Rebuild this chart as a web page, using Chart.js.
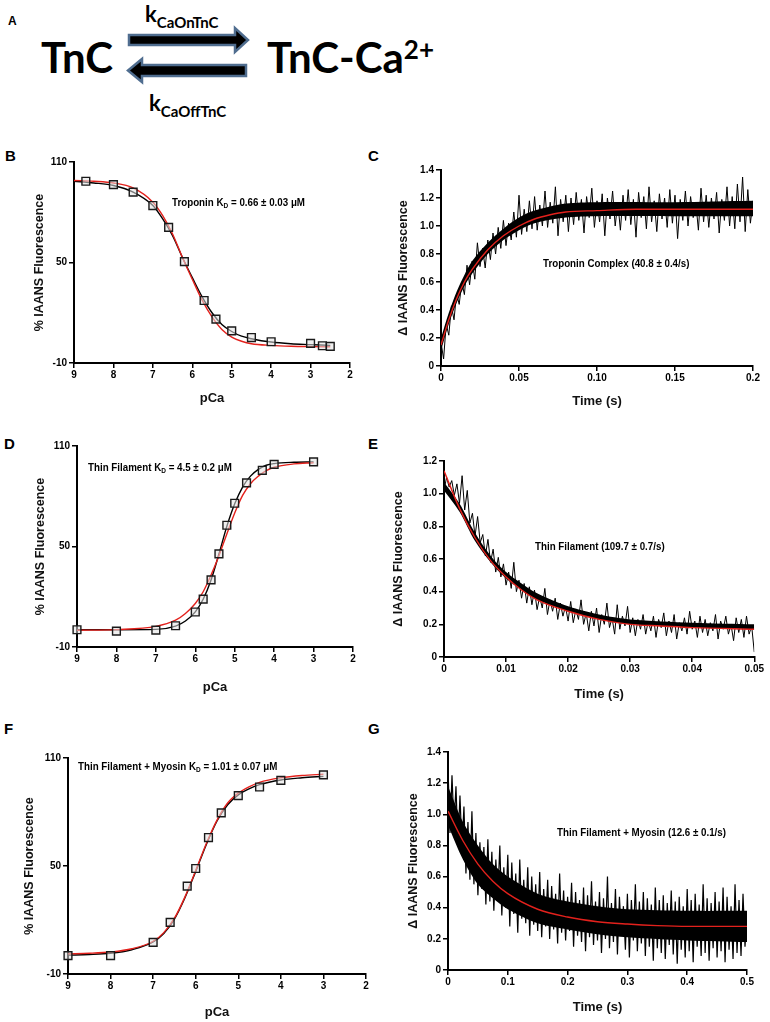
<!DOCTYPE html>
<html>
<head>
<meta charset="utf-8">
<script src="https://cdn.jsdelivr.net/npm/chart.js@4.4.0/dist/chart.umd.min.js"></script>
<style>
body { margin: 0; background: #fff; width: 770px; height: 1022px; overflow: hidden; position: relative; font-family: "Liberation Sans", Arial, sans-serif; }
canvas { position: absolute; }
.lbl { position: absolute; font-weight: bold; font-size: 15px; line-height: 1; }
.note { position: absolute; font-weight: bold; font-size: 10.5px; line-height: 14px; white-space: nowrap;
        font-family: "Liberation Sans", Arial, sans-serif; transform: scaleX(0.93); transform-origin: left center; }
.note sub { font-size: 7px; vertical-align: -2px; }
.big { position: absolute; font-family: Lato, "Open Sans", sans-serif; font-weight: bold; font-size: 42px; line-height: 1; white-space: nowrap; }
.big sup { font-size: 26px; vertical-align: 14px; }
.k { position: absolute; font-family: Lato, "Open Sans", sans-serif; font-weight: bold; font-size: 22px; line-height: 1; white-space: nowrap; }
.k sub { font-size: 15px; vertical-align: -6px; }
</style>
</head>
<body>

<!-- A: scheme -->
<div class="lbl" style="left:8px;top:15px;font-size:12px">A</div>
<div class="big" style="left:41px;top:36px">TnC</div>
<div class="big" style="left:267px;top:36px">TnC-Ca<sup>2+</sup></div>
<div class="k" style="left:145px;top:3px">k<sub>CaOnTnC</sub></div>
<div class="k" style="left:149px;top:92px">k<sub>CaOffTnC</sub></div>
<svg style="position:absolute;left:0;top:0" width="300" height="100">
  <polygon points="129,35 235,35 235,28 248,40 235,52 235,45 129,45" fill="#000" stroke="#4f6d8f" stroke-width="2.5" stroke-linejoin="miter"/>
  <polygon points="246,65 142,65 142,59 128,70.5 142,82 142,76 246,76" fill="#000" stroke="#4f6d8f" stroke-width="2.5" stroke-linejoin="miter"/>
</svg>

<div class="lbl" style="left:5px;top:148px">B</div>
<div class="lbl" style="left:368px;top:148px">C</div>
<div class="lbl" style="left:4px;top:436px">D</div>
<div class="lbl" style="left:368px;top:436px">E</div>
<div class="lbl" style="left:4px;top:721px">F</div>
<div class="lbl" style="left:368px;top:721px">G</div>

<canvas id="chartB" width="370" height="260" style="left:0;top:150px"></canvas>
<canvas id="chartC" width="385" height="263" style="left:380px;top:150px"></canvas>
<canvas id="chartD" width="370" height="269" style="left:0;top:430px"></canvas>
<canvas id="chartE" width="385" height="266" style="left:380px;top:440px"></canvas>
<canvas id="chartF" width="380" height="282" style="left:0;top:740px"></canvas>
<canvas id="chartG" width="385" height="284" style="left:380px;top:735px"></canvas>

<div class="note" style="left:172px;top:195px">Troponin K<sub>D</sub> = 0.66 ± 0.03 μM</div>
<div class="note" style="left:543px;top:256px">Troponin Complex (40.8 ± 0.4/s)</div>
<div class="note" style="left:88px;top:460px">Thin Filament K<sub>D</sub> = 4.5 ± 0.2 μM</div>
<div class="note" style="left:535px;top:539px">Thin Filament (109.7 ± 0.7/s)</div>
<div class="note" style="left:78px;top:759px">Thin Filament + Myosin K<sub>D</sub> = 1.01 ± 0.07 μM</div>
<div class="note" style="left:557px;top:825px">Thin Filament + Myosin (12.6 ± 0.1/s)</div>

<script>
// --- B: troponin steady-state titration ---
const bPca = [8.7, 8.0, 7.5, 7.0, 6.6, 6.2, 5.7, 5.4, 5.0, 4.5, 4.0, 3.0, 2.7, 2.5];
const bFluor = [98.5, 96.5, 92, 84, 71, 50.5, 27.3, 16.2, 9.2, 5.2, 2.7, 1.7, 0.3, -0.1];
const bFitPca = [9, 8.5, 8, 7.5, 7, 6.75, 6.5, 6.25, 6, 5.75, 5.5, 5.25, 5, 4.75, 4.5, 4, 3.5, 3, 2.5];
const bFitBlack = [98.5, 97.5, 96, 92, 84, 76, 66, 53, 41, 29.5, 20, 13, 8.8, 6, 4.5, 2.5, 1.5, 1, 0.5];
const bFitRed = [99, 98.5, 97.5, 94.5, 86, 78, 67, 53, 40, 27.5, 17.5, 10, 5.5, 3, 1.5, 0.5, 0, -0.2, -0.3];

// --- D: thin filament titration ---
const dPca = [9.0, 8.0, 7.0, 6.5, 6.0, 5.8, 5.6, 5.4, 5.2, 5.0, 4.7, 4.3, 4.0, 3.0];
const dFluor = [0.3, -0.5, 0.1, 2.7, 10.9, 18.6, 30.1, 45.6, 62.7, 75.8, 88, 95.5, 99, 100.5];
const dFitPca = [9, 8, 7, 6.5, 6.25, 6, 5.8, 5.6, 5.4, 5.2, 5, 4.8, 4.6, 4.4, 4.2, 4, 3.5, 3];
const dFitBlack = [0.3, 0.3, 0.5, 2.5, 5.5, 11, 18.5, 30, 45.5, 62, 75.5, 85.5, 92, 96, 98.5, 99.5, 100.3, 100.5];
const dFitRed = [0, 0.4, 2.3, 6, 10, 16, 23, 33, 44.5, 57.5, 70, 80.5, 87.5, 92, 95.3, 97.3, 99.3, 100];

// --- F: thin filament + myosin titration ---
const fPca = [9.0, 8.0, 7.0, 6.6, 6.2, 6.0, 5.7, 5.4, 5.0, 4.5, 4.0, 3.0];
const fFluor = [0.2, 0.2, 7.6, 18.7, 38.8, 48.6, 65.8, 79.5, 89.1, 93.9, 97.6, 100.6];
const fFitPca = [9, 8.5, 8, 7.5, 7, 6.75, 6.5, 6.25, 6, 5.75, 5.5, 5.25, 5, 4.75, 4.5, 4, 3.5, 3];
const fFitBlack = [0.5, 0.8, 1.5, 3.5, 7.8, 12.5, 20.5, 32.5, 47, 62, 75, 84, 89.5, 92.8, 95.2, 97.8, 99, 99.8];
const fFitRed = [1.2, 1.5, 2.2, 4, 8.2, 13, 21, 33, 47.5, 62.5, 75.5, 85, 90.5, 94, 96.5, 99, 100.3, 101];

const pcaTicks = [9, 8, 7, 6, 5, 4, 3, 2];
const pctTicks = [-10, 50, 110];

// --- C: troponin complex stopped-flow trace (0 - 0.2 s, evenly sampled) ---
const cTrace = [
  0.17, 0.05, 0.30, 0.22, 0.43, 0.33, 0.52, 0.44, 0.60, 0.51, 0.72, 0.58, 0.75, 0.62, 0.88, 0.71,
  0.84, 0.70, 0.90, 0.76, 0.95, 0.80, 0.99, 0.84, 1.04, 0.86, 1.02, 0.90, 1.10, 0.92, 1.22, 0.94,
  1.12, 0.96, 1.18, 0.98, 1.21, 0.97, 1.15, 1.00, 1.25, 0.99, 1.17, 1.02, 1.28, 0.93, 1.19, 1.03,
  1.22, 0.96, 1.20, 1.01, 1.24, 1.04, 1.19, 0.95, 1.21, 1.06, 1.27, 0.99, 1.18, 1.03, 1.23, 0.93,
  1.20, 1.05, 1.25, 1.00, 1.17, 0.97, 1.22, 1.04, 1.26, 1.01, 1.19, 0.92, 1.24, 1.06, 1.21, 0.98,
  1.28, 1.03, 1.18, 0.96, 1.23, 1.05, 1.20, 0.99, 1.26, 1.02, 1.22, 0.91, 1.19, 1.04, 1.25, 1.00,
  1.21, 1.06, 1.17, 0.97, 1.27, 1.03, 1.22, 0.99, 1.20, 1.05, 1.24, 0.95, 1.19, 1.04, 1.28, 1.00,
  1.21, 0.98, 1.30, 1.03, 1.35, 0.96, 1.26, 1.02, 1.18
];
// dense core of the trace (lower / upper edge)
const cBandT = [0, 0.005, 0.01, 0.015, 0.02, 0.03, 0.04, 0.05, 0.06, 0.08, 0.1, 0.15, 0.2];
const cBandLow = [0.11, 0.30, 0.45, 0.57, 0.66, 0.80, 0.90, 0.97, 1.02, 1.06, 1.07, 1.07, 1.07];
const cBandHigh = [0.20, 0.38, 0.53, 0.65, 0.75, 0.88, 0.98, 1.06, 1.11, 1.16, 1.17, 1.17, 1.18];
const cFitT = [0, 0.005, 0.01, 0.015, 0.02, 0.03, 0.04, 0.05, 0.06, 0.07, 0.08, 0.1, 0.125, 0.15, 0.2];
const cFitY = [0.15, 0.33, 0.48, 0.6, 0.69, 0.83, 0.93, 1.0, 1.05, 1.08, 1.10, 1.11, 1.12, 1.12, 1.12];

// --- E: thin filament trace (0 - 0.05 s) ---
const eTrace = [
  1.02, 1.10, 1.04, 1.08, 0.99, 1.06, 0.94, 1.11, 0.90, 1.02, 0.82, 0.88, 0.74, 0.86, 0.70, 0.75,
  0.62, 0.72, 0.58, 0.66, 0.52, 0.61, 0.49, 0.57, 0.44, 0.52, 0.42, 0.58, 0.40, 0.47, 0.36, 0.45,
  0.33, 0.43, 0.32, 0.41, 0.29, 0.37, 0.30, 0.42, 0.26, 0.35, 0.28, 0.36, 0.23, 0.33, 0.25, 0.31,
  0.22, 0.34, 0.21, 0.29, 0.23, 0.35, 0.20, 0.27, 0.16, 0.28, 0.19, 0.30, 0.15, 0.26, 0.20, 0.33,
  0.18, 0.24, 0.14, 0.32, 0.17, 0.25, 0.19, 0.31, 0.15, 0.24, 0.13, 0.23, 0.17, 0.26, 0.14, 0.22,
  0.16, 0.25, 0.12, 0.23, 0.18, 0.27, 0.13, 0.22, 0.15, 0.26, 0.11, 0.21, 0.16, 0.24, 0.14, 0.28,
  0.17, 0.22, 0.12, 0.25, 0.15, 0.23, 0.13, 0.21, 0.16, 0.26, 0.11, 0.22, 0.17, 0.25, 0.14, 0.20,
  0.10, 0.24, 0.15, 0.23, 0.12, 0.25, 0.14, 0.19, 0.03
];
const eBandT = [0, 0.0025, 0.005, 0.0075, 0.01, 0.0125, 0.015, 0.02, 0.025, 0.03, 0.04, 0.05];
const eBandLow = [1.02, 0.89, 0.71, 0.58, 0.48, 0.41, 0.35, 0.28, 0.23, 0.20, 0.18, 0.17];
const eBandHigh = [1.07, 0.94, 0.76, 0.62, 0.52, 0.45, 0.39, 0.31, 0.26, 0.23, 0.21, 0.20];
const eFitT = [0, 0.0025, 0.005, 0.0075, 0.01, 0.0125, 0.015, 0.02, 0.025, 0.03, 0.035, 0.04, 0.05];
const eFitY = [1.14, 0.91, 0.73, 0.59, 0.49, 0.41, 0.35, 0.28, 0.23, 0.2, 0.19, 0.18, 0.17];

// --- G: thin filament + myosin trace (0 - 0.5 s) ---
const gTrace = [
  1.30, 0.88, 1.25, 0.92, 1.18, 0.80, 1.12, 0.78, 1.05, 0.62, 0.95, 0.58, 1.02, 0.55, 0.88, 0.48,
  0.82, 0.52, 0.79, 0.42, 0.84, 0.44, 0.76, 0.38, 0.71, 0.47, 0.80, 0.35, 0.66, 0.40, 0.74, 0.28,
  0.69, 0.36, 0.62, 0.24, 0.71, 0.33, 0.58, 0.30, 0.66, 0.22, 0.60, 0.29, 0.55, 0.25, 0.63, 0.21,
  0.52, 0.28, 0.58, 0.20, 0.54, 0.26, 0.49, 0.17, 0.62, 0.24, 0.51, 0.19, 0.47, 0.25, 0.56, 0.15,
  0.50, 0.22, 0.45, 0.18, 0.53, 0.12, 0.48, 0.21, 0.57, 0.16, 0.44, 0.19, 0.50, 0.11, 0.46, 0.20,
  0.60, 0.14, 0.43, 0.18, 0.52, 0.10, 0.47, 0.22, 0.41, 0.13, 0.49, 0.08, 0.45, 0.19, 0.55, 0.12,
  0.44, 0.17, 0.50, 0.09, 0.46, 0.15, 0.42, 0.06, 0.53, 0.14, 0.45, 0.11, 0.48, 0.07, 0.43, 0.16,
  0.51, 0.10, 0.44, 0.04, 0.47, 0.13, 0.41, 0.08, 0.52, 0.12, 0.45, 0.05, 0.49, 0.15, 0.42, 0.09,
  0.55, 0.11, 0.46, 0.06, 0.43, 0.14, 0.50, 0.08, 0.44, 0.12, 0.53, 0.05, 0.47, 0.13, 0.41, 0.07,
  0.55, 0.11, 0.45, 0.09, 0.49, 0.15, 0.36
];
const gBandT = [0, 0.025, 0.05, 0.075, 0.1, 0.15, 0.2, 0.25, 0.3, 0.4, 0.5];
const gBandLow = [0.93, 0.71, 0.55, 0.46, 0.39, 0.30, 0.26, 0.23, 0.21, 0.19, 0.18];
const gBandHigh = [1.18, 0.95, 0.80, 0.68, 0.60, 0.49, 0.44, 0.41, 0.39, 0.38, 0.38];
const gFitT = [0, 0.025, 0.05, 0.075, 0.1, 0.15, 0.2, 0.25, 0.3, 0.35, 0.4, 0.5];
const gFitY = [1.02, 0.83, 0.68, 0.57, 0.49, 0.39, 0.34, 0.31, 0.295, 0.285, 0.28, 0.28];

const RED = '#e3211c';
const FONT = 'Liberation Sans, Arial, sans-serif';

function pairs(xs, ys) { return xs.map((x, i) => ({ x: x, y: ys[i] })); }
function trace(vals, tMax) {
    const step = tMax / (vals.length - 1);
    return vals.map((v, i) => ({ x: i * step, y: v }));
}

function fitLine(data, color, order) {
    return { data: data, showLine: true, borderColor: color, borderWidth: 1.4, pointRadius: 0,
             tension: 0.4, cubicInterpolationMode: 'monotone', order: order };
}
function squares(data) {
    return { data: data, showLine: false, pointStyle: 'rect', pointRadius: 5.5, borderWidth: 1.4,
             borderColor: '#1a1a1a', backgroundColor: 'rgba(225,225,225,0.55)', clip: false, order: 0 };
}
function noisy(data, w) {
    return { data: data, showLine: true, borderColor: '#000', borderWidth: w, pointRadius: 0, tension: 0, order: 2 };
}
// filled core of a noisy trace: lower edge, then upper edge filled down to it
function band(lowData, highData) {
    return [
        { data: lowData, showLine: true, borderWidth: 0, pointRadius: 0, tension: 0.3, fill: false, order: 3 },
        { data: highData, showLine: true, borderWidth: 0, pointRadius: 0, tension: 0.3, fill: '-1', backgroundColor: '#000', order: 3 }
    ];
}

function axis(c) {
    return {
        type: 'linear', min: c.min, max: c.max, reverse: !!c.reverse,
        afterBuildTicks: s => { s.ticks = c.ticks.map(v => ({ value: v })); },
        afterFit: s => { if (c.width) s.width = c.width; if (c.height) s.height = c.height; },
        border: { display: true, color: '#000', width: 2 },
        grid: { display: true, drawOnChartArea: false, drawTicks: true, tickLength: 5, color: '#000', lineWidth: 1.5 },
        ticks: { color: '#000', padding: c.width ? 2 : 1, font: { family: FONT, size: 10, weight: 'bold' }, maxRotation: 0,
                 callback: (v, i) => c.labels ? c.labels[i] : String(v) },
        title: { display: true, text: c.title, color: '#111', padding: { top: 4, bottom: c.titleBottom || 4 },
                 font: { family: FONT, size: c.width ? 12.5 : 13, weight: 'bold' } }
    };
}

function makeChart(id, datasets, pad, xCfg, yCfg) {
    const ctx = document.getElementById(id).getContext('2d');
    return new Chart(ctx, {
        type: 'scatter',
        data: { datasets: datasets },
        options: {
            responsive: false, animation: false, devicePixelRatio: 1,
            layout: { padding: pad },
            plugins: { legend: { display: false }, tooltip: { enabled: false } },
            scales: { x: axis(xCfg), y: axis(yCfg) }
        }
    });
}

const pcaX = h => ({ min: 2, max: 9, reverse: true, ticks: pcaTicks, title: 'pCa', height: h });
const pctY = w => ({ min: -10, max: 110, ticks: pctTicks, title: '% IAANS Fluorescence', width: w });

makeChart('chartB',
    [squares(pairs(bPca, bFluor)), fitLine(pairs(bFitPca, bFitRed), RED, 1), fitLine(pairs(bFitPca, bFitBlack), '#000', 2)],
    { left: 28, top: 12, right: 20, bottom: 0 }, pcaX(47), pctY(46));

makeChart('chartD',
    [squares(pairs(dPca, dFluor)), fitLine(pairs(dFitPca, dFitRed), RED, 1), fitLine(pairs(dFitPca, dFitBlack), '#000', 2)],
    { left: 29, top: 16, right: 17, bottom: 0 }, pcaX(52), pctY(48));

const fX = pcaX(48); fX.titleBottom = 2;
makeChart('chartF',
    [squares(pairs(fPca, fFluor)), fitLine(pairs(fFitPca, fFitRed), RED, 1), fitLine(pairs(fFitPca, fFitBlack), '#000', 2)],
    { left: 18, top: 18, right: 14, bottom: 0 }, fX, pctY(50));

makeChart('chartC',
    [fitLine(pairs(cFitT, cFitY), RED, 0), noisy(trace(cTrace, 0.2), 1)].concat(band(pairs(cBandT, cBandLow), pairs(cBandT, cBandHigh))),
    { left: 12, top: 20, right: 12, bottom: 0 },
    { min: 0, max: 0.2, ticks: [0, 0.05, 0.1, 0.15, 0.2], labels: ['0', '0.05', '0.10', '0.15', '0.2'], title: 'Time (s)', height: 47 },
    { min: 0, max: 1.4, ticks: [0, 0.2, 0.4, 0.6, 0.8, 1.0, 1.2, 1.4], labels: ['0', '0.2', '0.4', '0.6', '0.8', '1.0', '1.2', '1.4'], title: 'Δ IAANS Fluorescence', width: 49 });

makeChart('chartE',
    [fitLine(pairs(eFitT, eFitY), RED, 0), noisy(trace(eTrace, 0.05), 1)].concat(band(pairs(eBandT, eBandLow), pairs(eBandT, eBandHigh))),
    { left: 7, top: 21, right: 8, bottom: 0 },
    { min: 0, max: 0.05, ticks: [0, 0.01, 0.02, 0.03, 0.04, 0.05], labels: ['0', '0.01', '0.02', '0.03', '0.04', '0.05'], title: 'Time (s)', height: 49 },
    { min: 0, max: 1.2, ticks: [0, 0.2, 0.4, 0.6, 0.8, 1.0, 1.2], labels: ['0', '0.2', '0.4', '0.6', '0.8', '1.0', '1.2'], title: 'Δ IAANS Fluorescence', width: 57 });

makeChart('chartG',
    [fitLine(pairs(gFitT, gFitY), RED, 0), noisy(trace(gTrace, 0.5), 1.2)].concat(band(pairs(gBandT, gBandLow), pairs(gBandT, gBandHigh))),
    { left: 22, top: 17, right: 18, bottom: 0 },
    { min: 0, max: 0.5, ticks: [0, 0.1, 0.2, 0.3, 0.4, 0.5], labels: ['0', '0.1', '0.2', '0.3', '0.4', '0.5'], title: 'Time (s)', height: 49 },
    { min: 0, max: 1.4, ticks: [0, 0.2, 0.4, 0.6, 0.8, 1.0, 1.2, 1.4], labels: ['0', '0.2', '0.4', '0.6', '0.8', '1.0', '1.2', '1.4'], title: 'Δ IAANS Fluorescence', width: 46 });
</script>
</body>
</html>
